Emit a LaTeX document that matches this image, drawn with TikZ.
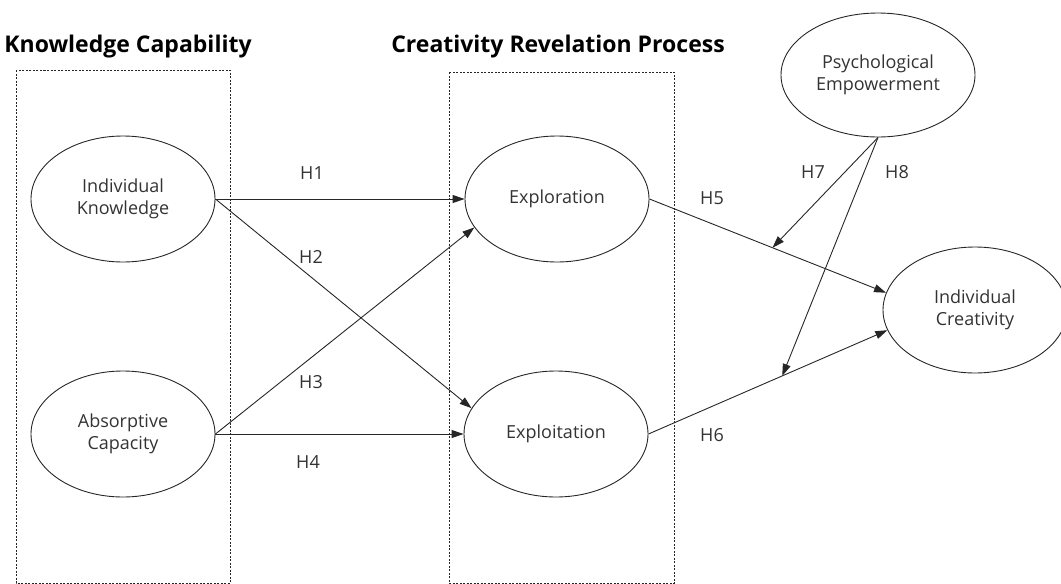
\documentclass[tikz,border=0pt]{standalone}
\usepackage{fontspec}
\setmainfont{Open Sans}
\usetikzlibrary{shapes.geometric, arrows.meta}

\begin{document}
\begin{tikzpicture}[
    x=1pt, y=-1pt,
    >={Triangle[length=12pt, width=8pt]}, line width=0.9pt, draw=black!85,
    construct/.style={draw, ellipse, inner sep=0pt, minimum width=184pt,
        minimum height=126pt, align=center, text=black!80,
        font=\fontsize{18}{22}\selectfont},
    group/.style={draw, line width=0.8pt, dash pattern=on 2pt off 1.5pt},
    title/.style={font=\fontsize{23}{27}\selectfont\bfseries},
    hyp/.style={text=black!80, font=\fontsize{18}{22}\selectfont},
    every edge/.style={draw, ->}
]
    \useasboundingbox (0,0) rectangle (1061,584);

    % dotted groups and their titles
    \draw[group] (16,70) rectangle (230,583);
    \draw[group] (449,72) rectangle (674,583);
    \node[title] (kcap) at (128,47) {Knowledge Capability};
    \node[title] (crp)  at (558,47) {Creativity Revelation Process};

    % constructs
    \node[construct] (ik)      at (123,199) {Individual\\Knowledge};
    \node[construct] (ac)      at (123,434) {Absorptive\\Capacity};
    \node[construct] (explor)  at (557,199) {Exploration};
    \node[construct] (exploit) at (556,434) {Exploitation};
    \node[construct] (ic)      at (975,310) {Individual\\Creativity};
    \node[construct, minimum width=194pt, minimum height=124pt]
                     (pe)      at (878,75)  {Psychological\\Empowerment};

    % paths
    \path
        (ik.east) edge (explor.west)
        (ik.east) edge (exploit.163)
        (ac.east) edge (explor.199)
        (ac.east) edge (exploit.west);
    \draw[->] (explor.east) -- coordinate[pos=0.52] (m5) (ic.169);
    \draw[->] (exploit.east) -- coordinate[pos=0.56] (m6) (ic.193);
    \draw[->] (pe.south) -- (m5);
    \draw[->] (pe.south) -- (m6);

    % hypotheses
    \node[hyp] (h1) at (312,173) {H1};
    \node[hyp] (h2) at (311,257) {H2};
    \node[hyp] (h3) at (311,382) {H3};
    \node[hyp] (h4) at (308,462) {H4};
    \node[hyp] (h5) at (712,198) {H5};
    \node[hyp] (h6) at (712,435) {H6};
    \node[hyp] (h7) at (813,172) {H7};
    \node[hyp] (h8) at (897,172) {H8};
\end{tikzpicture}
\end{document}
